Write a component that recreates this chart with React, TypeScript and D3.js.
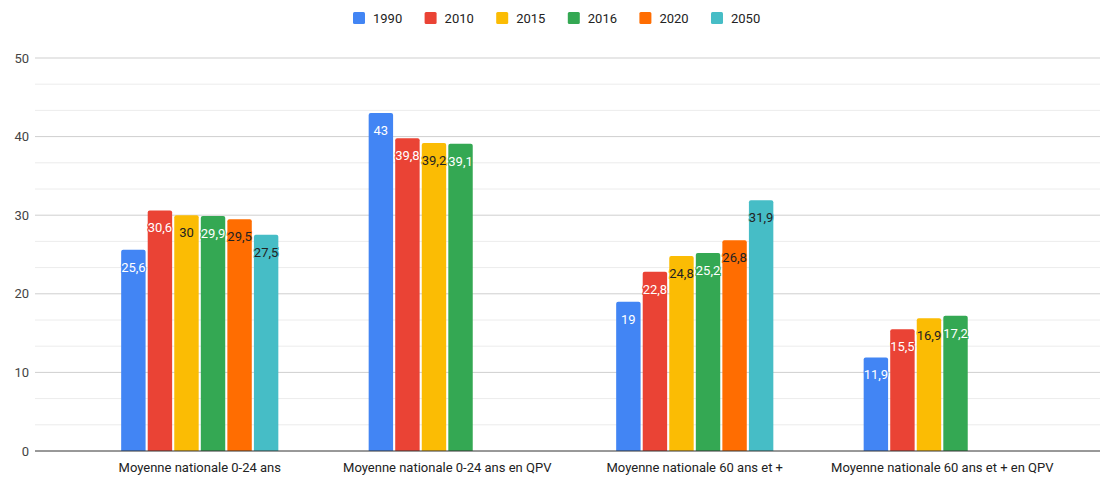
import React from "react";
import * as d3 from "d3";

const categories = [
  "Moyenne nationale 0-24 ans",
  "Moyenne nationale 0-24 ans en QPV",
  "Moyenne nationale 60 ans et +",
  "Moyenne nationale 60 ans et + en QPV",
];
const years = ["1990", "2010", "2015", "2016", "2020", "2050"];
const s1990 = [25.6, 43, 19, 11.9];
const s2010 = [30.6, 39.8, 22.8, 15.5];
const s2015 = [30, 39.2, 24.8, 16.9];
const s2016 = [29.9, 39.1, 25.2, 17.2];
const s2020: (number | null)[] = [29.5, null, 26.8, null];
const s2050: (number | null)[] = [27.5, null, 31.9, null];
const seriesValues = [s1990, s2010, s2015, s2016, s2020, s2050];
const colors = ["#4285F4", "#EA4335", "#FBBC04", "#34A853", "#FF6D01", "#46BDC6"];
const labelColors = ["#fff", "#fff", "#222", "#fff", "#222", "#222"];
const yTicks = [0, 10, 20, 30, 40, 50];

const W = 1101;
const H = 477;
const FONT = "Roboto, Arial, sans-serif";

export default function App() {
  const y = d3.scaleLinear().domain([0, 50]).range([451, 58]);
  const x0 = d3.scaleBand<string>().domain(categories).range([76, 1066]).paddingInner(0.365).paddingOuter(0.1825);
  const x1 = d3.scaleBand<string>().domain(years).range([0, x0.bandwidth()]).paddingInner(0.08);
  const minor: number[] = [];
  for (let i = 0; i < 15; i++) {
    if (i % 3 !== 0) minor.push((i * 10) / 3);
  }
  const legendX = d3.scalePoint<string>().domain(years).range([353, 711]);

  return (
    <svg width={W} height={H} style={{ position: "absolute", left: 0, top: 0, background: "#fff" }} fontFamily={FONT}>
      <rect width={W} height={H} fill="#fff" />
      {minor.map((v) => (
        <line key={"m" + v} x1={35} x2={1100} y1={y(v)} y2={y(v)} stroke="#ececec" strokeWidth={1} />
      ))}
      {yTicks.map((v) => (
        <g key={"t" + v}>
          {v !== 0 && <line x1={35} x2={1100} y1={y(v)} y2={y(v)} stroke="#cfcfcf" strokeWidth={1} />}
          <text x={29} y={y(v) + 4.5} textAnchor="end" fontSize={13} fill="#444">
            {v}
          </text>
        </g>
      ))}
      {categories.map((c, ci) => (
        <g key={c} transform={`translate(${x0(c)},0)`}>
          {years.map((yr, si) => {
            const v = seriesValues[si][ci];
            if (v == null) return null;
            const bx = x1(yr)!;
            const bw = x1.bandwidth();
            const top = y(v);
            return (
              <g key={yr}>
                <path
                  d={`M${bx},${y(0)} V${top + 2} Q${bx},${top} ${bx + 2},${top} H${bx + bw - 2} Q${bx + bw},${top} ${bx + bw},${top + 2} V${y(0)} Z`}
                  fill={colors[si]}
                />
                <text
                  x={bx + bw / 2}
                  y={top + 22}
                  textAnchor="middle"
                  fontSize={13}
                  fill={labelColors[si]}
                  stroke={colors[si]}
                  strokeWidth={2}
                  paintOrder="stroke"
                >
                  {String(v).replace(".", ",")}
                </text>
              </g>
            );
          })}
          <text x={x0.bandwidth() / 2} y={472} textAnchor="middle" fontSize={13} fill="#222">
            {c}
          </text>
        </g>
      ))}
      <line x1={35} x2={1100} y1={y(0)} y2={y(0)} stroke="#333" strokeWidth={1} />
      {years.map((yr, i) => (
        <g key={"l" + yr} transform={`translate(${legendX(yr)},0)`}>
          <rect x={0} y={12} width={12} height={12} rx={1.5} fill={colors[i]} />
          <text x={20} y={22.5} fontSize={13} fill="#222">
            {yr}
          </text>
        </g>
      ))}
    </svg>
  );
}
